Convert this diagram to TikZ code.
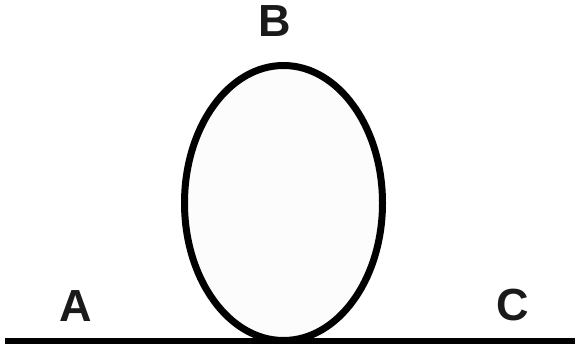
\documentclass[tikz,border=0pt]{standalone}
\usepackage{fontspec}
\setmainfont{Liberation Sans}
\definecolor{ink}{HTML}{1A1A1A}
\begin{document}
\begin{tikzpicture}[x=1pt,y=-1pt,
  lbl/.style={font=\fontsize{45}{45}\selectfont\bfseries, text=ink, inner sep=0pt, anchor=center},
  loop/.style={draw=black, line width=7pt, fill=black!1}]
\useasboundingbox (0,0) rectangle (575,347);
\coordinate (L) at (5,340.5);
\coordinate (R) at (577,340.5);
\draw[line width=6pt, black] (L) -- (R);
\draw[loop] (283.5,203) ellipse [x radius=99, y radius=137.5];
\node[lbl] (A) at (76,306.5) {A};
\node[lbl] (B) at (275,21) {B};
\node[lbl] (C) at (513,305) {C};
\end{tikzpicture}
\end{document}
